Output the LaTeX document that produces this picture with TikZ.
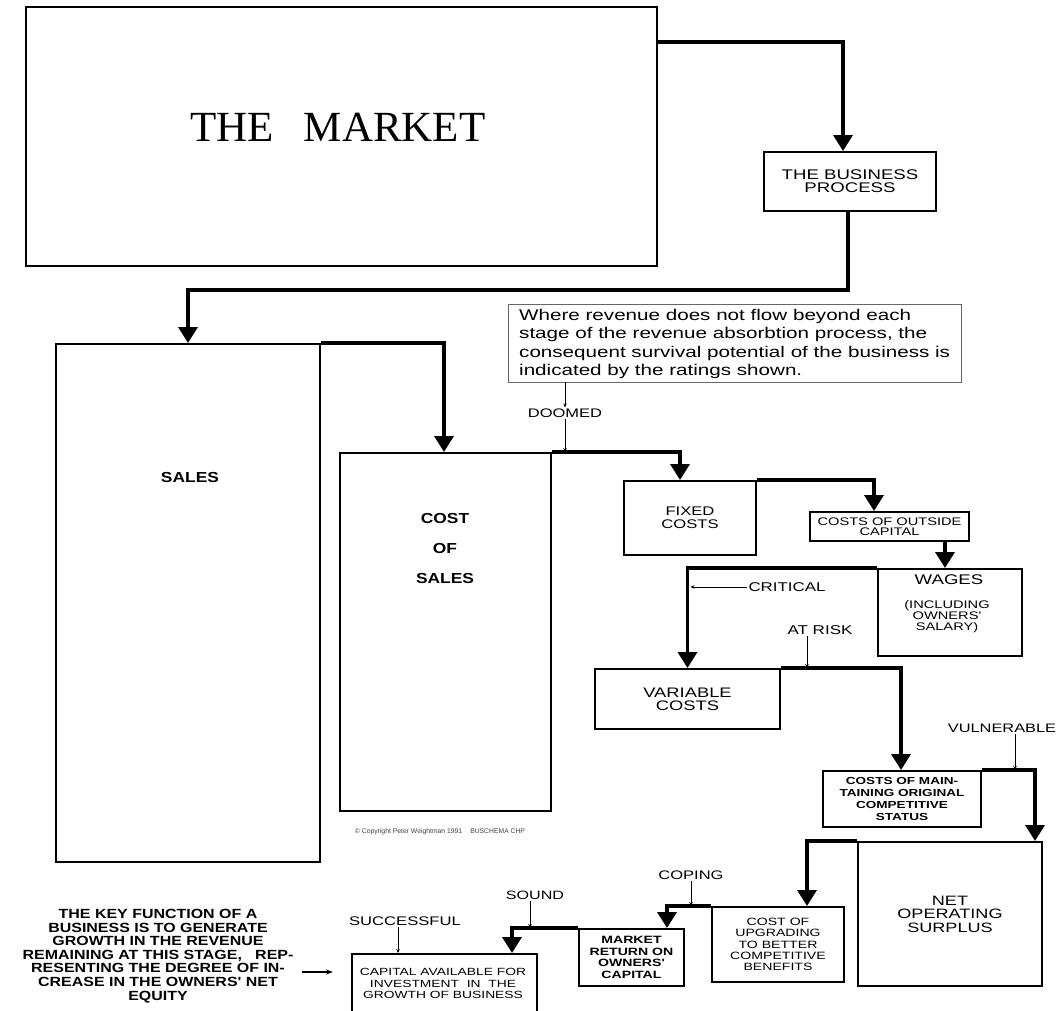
\documentclass[tikz,border=0pt]{standalone}
\usepackage{fontspec}
\setmainfont{Liberation Sans}
\newfontfamily\mktfont{Liberation Serif}
\newfontfamily\widesf[FakeStretch=1.33]{Liberation Sans}
\newfontfamily\midsf[FakeStretch=1.2]{Liberation Sans}
\usetikzlibrary{arrows.meta}
\begin{document}
\begin{tikzpicture}[x=1pt,y=-1pt,
  bx/.style={draw, line width=2pt, inner sep=0pt, align=center},
  conn/.style={line width=3.5pt, line join=miter, -{Triangle[width=19pt,length=16pt]}},
  thinarr/.style={line width=0.6pt, -{Stealth[length=4pt,width=3.5pt]}},
  lbl/.style={inner sep=1pt, font=\widesf\fontsize{12.4}{14}\selectfont},
  txt/.style={inner sep=0pt, align=center}]
\useasboundingbox (0,0) rectangle (1059,1010);
\clip (0,0) rectangle (1059,1010);
\fill[white] (0,0) rectangle (1059,1010);

% boxes
\node[bx, minimum width=631pt, minimum height=259pt] (market) at (341.5,136.5) {};
\node[txt, font=\mktfont\fontsize{43}{43}\selectfont] (mkttext) at (338,127) {THE\hspace{30pt}MARKET};

\node[bx, minimum width=172pt, minimum height=59pt, font=\widesf\fontsize{14}{13}\selectfont] (bp) at (850,181.5) {THE BUSINESS\\PROCESS};

\node[draw=black!60, line width=0.6pt, minimum width=453pt, minimum height=78pt, inner sep=0pt] (note) at (734.5,343) {};
\node[anchor=west, align=left, inner sep=0pt, font=\widesf\fontsize{15.5}{18.3}\selectfont] (notetext) at (519,344) {Where revenue does not flow beyond each\\stage of the revenue absorbtion process, the\\consequent survival potential of the business is\\indicated by the ratings shown.};

\node[bx, minimum width=264pt, minimum height=518pt] (sales) at (188,603) {};
\node[txt, font=\midsf\bfseries\fontsize{14.5}{15}\selectfont] (salestext) at (190,477) {SALES};

\node[bx, minimum width=211pt, minimum height=358pt] (cos) at (445.5,632) {};
\node[txt, font=\midsf\bfseries\fontsize{14.5}{30}\selectfont] (costext) at (445,548) {COST\\OF\\SALES};

\node[bx, minimum width=132pt, minimum height=74pt, font=\widesf\fontsize{12.5}{13}\selectfont] (fixed) at (690,518) {FIXED\\COSTS};
\node[bx, minimum width=159pt, minimum height=29pt, font=\widesf\fontsize{11}{10.5}\selectfont] (cooc) at (889.5,526.5) {COSTS OF OUTSIDE\\CAPITAL};

\node[bx, minimum width=144pt, minimum height=87pt] (wages) at (950,612.5) {};
\node[txt, font=\widesf\fontsize{14}{14}\selectfont] (wagest) at (949,580) {WAGES};
\node[txt, font=\widesf\fontsize{11}{11}\selectfont] (wagess) at (947,617) {(INCLUDING\\OWNERS'\\SALARY)};

\node[bx, minimum width=185pt, minimum height=60pt, font=\widesf\fontsize{13.8}{13}\selectfont] (var) at (687.5,699) {VARIABLE\\COSTS};
\node[bx, minimum width=158pt, minimum height=56pt, font=\widesf\bfseries\fontsize{10.2}{11.7}\selectfont] (com) at (902,799) {COSTS OF MAIN-\\TAINING ORIGINAL\\COMPETITIVE\\STATUS};
\node[bx, minimum width=184pt, minimum height=144pt, font=\widesf\fontsize{13.6}{13.5}\selectfont] (nos) at (950,914) {NET\\OPERATING\\SURPLUS};
\node[bx, minimum width=132pt, minimum height=75pt, font=\widesf\fontsize{10.6}{11.25}\selectfont] (cou) at (778,944.5) {COST OF\\UPGRADING\\TO BETTER\\COMPETITIVE\\BENEFITS};
\node[bx, minimum width=105pt, minimum height=57pt, font=\widesf\bfseries\fontsize{10.6}{11.7}\selectfont] (mroc) at (631.5,957.5) {MARKET\\RETURN ON\\OWNERS'\\CAPITAL};
\node[bx, minimum width=185pt, minimum height=70pt] (cavail) at (444.5,989) {};
\node[txt, font=\widesf\fontsize{10.4}{11.5}\selectfont] (cavailt) at (443,983.5) {CAPITAL AVAILABLE FOR\\INVESTMENT\ \ IN\ \ THE\\GROWTH OF BUSINESS};

\node[txt, font=\midsf\bfseries\fontsize{13.3}{13.6}\selectfont] (key) at (158,956) {THE KEY FUNCTION OF A\\BUSINESS IS TO GENERATE\\GROWTH IN THE REVENUE\\REMAINING AT THIS STAGE,\ \ \ REP-\\RESENTING THE DEGREE OF IN-\\CREASE IN THE OWNERS' NET\\EQUITY};

\node[txt, font=\fontsize{6.8}{7}\selectfont, text=black!75] (copy) at (440,832) {© Copyright Peter Weightman 1991\hspace{8pt}BUSCHEMA CHP};

% rating labels
\node[lbl] (doomed) at (565,413) {DOOMED};
\node[lbl, font=\widesf\fontsize{12.7}{14}\selectfont] (critical) at (787,587) {CRITICAL};
\node[lbl, font=\widesf\fontsize{12.8}{14}\selectfont] (atrisk) at (820,630) {AT RISK};
\node[lbl, font=\widesf\fontsize{12.3}{14}\selectfont] (vuln) at (1002,728) {VULNERABLE};
\node[lbl] (coping) at (691,875) {COPING};
\node[lbl, font=\widesf\fontsize{12.1}{14}\selectfont] (sound) at (535,895) {SOUND};
\node[lbl, font=\widesf\fontsize{12.5}{14}\selectfont] (succ) at (405,921) {SUCCESSFUL};

% main flow connectors
\draw[conn] ([yshift=-36pt]market.north east) -| ([xshift=-7pt]bp.north);
\draw[conn] ([xshift=-2pt]bp.south) -- ++(0,78) -| (sales.north);
\draw[conn] (sales.north east) -| ([xshift=-1.5pt]cos.north);
\draw[conn] (cos.north east) -| ([xshift=-10pt]fixed.north);
\draw[conn] (fixed.north east) -| ([xshift=-15.5pt]cooc.north);
\draw[conn] ([xshift=55.5pt]cooc.south) -- ([xshift=-5pt]wages.north);
\draw[conn] (wages.north west) -| (var.north);
\draw[conn] (var.north east) -| ([xshift=-1pt]com.north);
\draw[conn] (com.north east) -| ([xshift=85pt]nos.north);
\draw[conn] (nos.north west) -| ([xshift=29pt]cou.north);
\draw[conn] (cou.north west) -| ([xshift=35.5pt]mroc.north);
\draw[conn] (mroc.north west) -| ([xshift=67.5pt]cavail.north);

% rating pointers
\draw[thinarr] ([xshift=-169.5pt]note.south) -- (doomed.north);
\draw[thinarr] (doomed.south) -- (doomed.south |- cos.north);
\draw[thinarr] (critical.west) -- ([xshift=3pt]critical.west -| var.north);
\draw[thinarr] ([xshift=-13pt]atrisk.south) -- ([xshift=-13pt]atrisk.south |- var.north);
\draw[thinarr] ([xshift=13pt]vuln.south) -- ([xshift=13pt]vuln.south |- com.north);
\draw[thinarr] (coping.south) -- (coping.south |- cou.north);
\draw[thinarr] ([xshift=-5pt]sound.south) -- ([xshift=-5pt]sound.south |- mroc.north);
\draw[thinarr] ([xshift=-7pt]succ.south) -- ([xshift=-7pt]succ.south |- cavail.north);

% key function pointer
\coordinate (ka) at (302,972);
\coordinate (kb) at (333,972);
\draw[line width=1.5pt, -{Stealth[length=7pt,width=5pt]}] (ka) -- (kb);
\end{tikzpicture}
\end{document}
